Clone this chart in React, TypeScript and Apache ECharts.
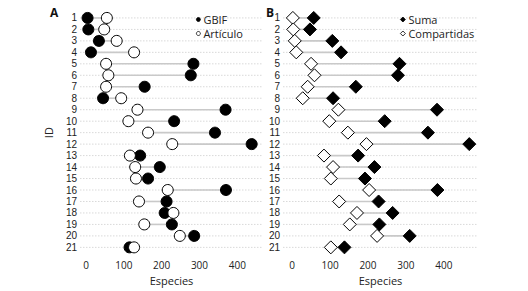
import React, { useEffect, useRef } from "react";
import * as echarts from "echarts";

const ids = ["1","2","3","4","5","6","7","8","9","10","11","12","13","14","15","16","17","18","19","20","21"];
const gbif = [4, 6, 34, 13, 284, 277, 155, 45, 369, 233, 341, 438, 143, 195, 164, 370, 213, 208, 227, 286, 115];
const articulo = [55, 48, 81, 127, 53, 59, 53, 93, 136, 112, 164, 228, 116, 130, 132, 216, 140, 231, 154, 248, 127];
const suma = [57, 47, 106, 129, 283, 279, 168, 108, 382, 244, 358, 467, 174, 217, 192, 383, 228, 265, 230, 310, 138];
const compartidas = [2, 3, 7, 11, 50, 59, 41, 28, 122, 98, 147, 196, 84, 108, 102, 203, 124, 171, 152, 224, 102];

const FONT = "'Open Sans', 'Noto Sans', sans-serif";
const YFONT = "'Liberation Sans', Arial, sans-serif";
const TXT = "#222";

function gridLines(idx: number) {
  return {
    type: "custom",
    xAxisIndex: idx,
    yAxisIndex: idx,
    silent: true,
    z: 0,
    data: ids.map((_, i) => [0, i]),
    encode: { x: 0, y: 1 },
    renderItem: (params: any, api: any) => {
      const cs = params.coordSys;
      const y = api.coord([0, api.value(1)])[1];
      return {
        type: "line",
        shape: { x1: cs.x, y1: y, x2: cs.x + cs.width, y2: y },
        style: { stroke: "#d9d9d9", lineWidth: 1, lineDash: [1.5, 1.5] },
      };
    },
  };
}

function segments(idx: number, a: number[], b: number[]) {
  return {
    type: "custom",
    xAxisIndex: idx,
    yAxisIndex: idx,
    silent: true,
    z: 1,
    data: a.map((v, i) => [Math.min(v, b[i]), Math.max(v, b[i]), i]),
    encode: { x: [0, 1], y: 2 },
    renderItem: (params: any, api: any) => {
      const p1 = api.coord([api.value(0), api.value(2)]);
      const p2 = api.coord([api.value(1), api.value(2)]);
      return {
        type: "line",
        shape: { x1: p1[0], y1: p1[1], x2: p2[0], y2: p2[1] },
        style: { stroke: "#c9c9c9", lineWidth: 1.6 },
      };
    },
  };
}

function xAxis(idx: number, min: number, max: number) {
  return {
    type: "value",
    gridIndex: idx,
    min,
    max,
    splitNumber: 5,
    name: "Especies",
    nameLocation: "middle",
    nameGap: 19,
    nameTextStyle: { color: TXT, fontSize: 11, fontFamily: FONT },
    axisLine: { show: false },
    axisTick: { show: false },
    splitLine: { show: false },
    axisLabel: {
      color: TXT,
      fontSize: 10,
      fontFamily: FONT,
      margin: 7,
      showMinLabel: true,
      showMaxLabel: true,
      formatter: (v: number) => (Math.abs(v % 100) < 1e-6 && v >= 0 && v <= 400 ? String(v) : ""),
    },
  };
}

function yAxis(idx: number, withName: boolean) {
  return {
    type: "category",
    gridIndex: idx,
    data: ids,
    inverse: true,
    name: withName ? "ID" : "",
    nameLocation: "middle",
    nameGap: 26,
    nameTextStyle: { color: TXT, fontSize: 11, fontFamily: FONT },
    axisLine: { show: false },
    axisTick: { show: false },
    splitLine: { show: false },
    axisLabel: { color: TXT, fontSize: 10, lineHeight: 11, fontFamily: YFONT, margin: 3, interval: 0 },
  };
}

export default function App() {
  const ref = useRef<HTMLDivElement>(null);
  useEffect(() => {
    if (!ref.current) return;
    const chart = echarts.init(ref.current, undefined, { renderer: "svg" });
    const gridTop = 12.2;
    const gridH = 242.6;
    chart.setOption({
      animation: false,
      backgroundColor: "#fff",
      textStyle: { fontFamily: FONT },
      title: [
        { text: "A", left: 45, top: 1, textStyle: { fontSize: 12, fontWeight: "bold", color: "#111", fontFamily: FONT } },
        { text: "B", left: 261, top: 1, textStyle: { fontSize: 12, fontWeight: "bold", color: "#111", fontFamily: FONT } },
      ],
      legend: [
        {
          data: ["GBIF", "Artículo"],
          orient: "vertical",
          left: 191,
          top: 9,
          itemWidth: 4,
          itemHeight: 4,
          itemGap: 3,
          itemStyle: { borderWidth: 0.8 },
          textStyle: { color: TXT, fontSize: 11, fontFamily: FONT, padding: [0, 0, 0, -2] },
        },
        {
          data: ["Suma", "Compartidas"],
          orient: "vertical",
          left: 395,
          top: 9,
          itemWidth: 5,
          itemHeight: 5,
          itemGap: 3,
          itemStyle: { borderWidth: 0.8 },
          textStyle: { color: TXT, fontSize: 11, fontFamily: FONT, padding: [0, 0, 0, -2] },
        },
      ],
      grid: [
        { left: 80, top: gridTop, width: 183, height: gridH },
        { left: 283, top: gridTop, width: 195, height: gridH },
      ],
      xAxis: [xAxis(0, -16, 468), xAxis(1, -24, 490)],
      yAxis: [yAxis(0, true), yAxis(1, false)],
      series: [
        gridLines(0),
        gridLines(1),
        segments(0, gbif, articulo),
        segments(1, suma, compartidas),
        {
          name: "GBIF",
          type: "scatter",
          xAxisIndex: 0,
          yAxisIndex: 0,
          symbol: "circle",
          symbolSize: 11,
          z: 2,
          itemStyle: { color: "#000", borderColor: "#000", borderWidth: 1, opacity: 1 },
          data: gbif.map((v, i) => [v, ids[i]]),
        },
        {
          name: "Artículo",
          type: "scatter",
          xAxisIndex: 0,
          yAxisIndex: 0,
          symbol: "circle",
          symbolSize: 11,
          z: 3,
          itemStyle: { color: "#fff", borderColor: "#000", borderWidth: 1, opacity: 1 },
          data: articulo.map((v, i) => [v, ids[i]]),
        },
        {
          name: "Compartidas",
          type: "scatter",
          xAxisIndex: 1,
          yAxisIndex: 1,
          symbol: "diamond",
          symbolSize: 13,
          z: 2,
          itemStyle: { color: "#fff", borderColor: "#000", borderWidth: 1, opacity: 1 },
          data: compartidas.map((v, i) => [v, ids[i]]),
        },
        {
          name: "Suma",
          type: "scatter",
          xAxisIndex: 1,
          yAxisIndex: 1,
          symbol: "diamond",
          symbolSize: 13,
          z: 3,
          itemStyle: { color: "#000", borderColor: "#000", borderWidth: 1, opacity: 1 },
          data: suma.map((v, i) => [v, ids[i]]),
        },
      ],
    });
    return () => chart.dispose();
  }, []);
  return <div ref={ref} style={{ width: 528, height: 291, position: "absolute", left: 0, top: 0 }} />;
}
